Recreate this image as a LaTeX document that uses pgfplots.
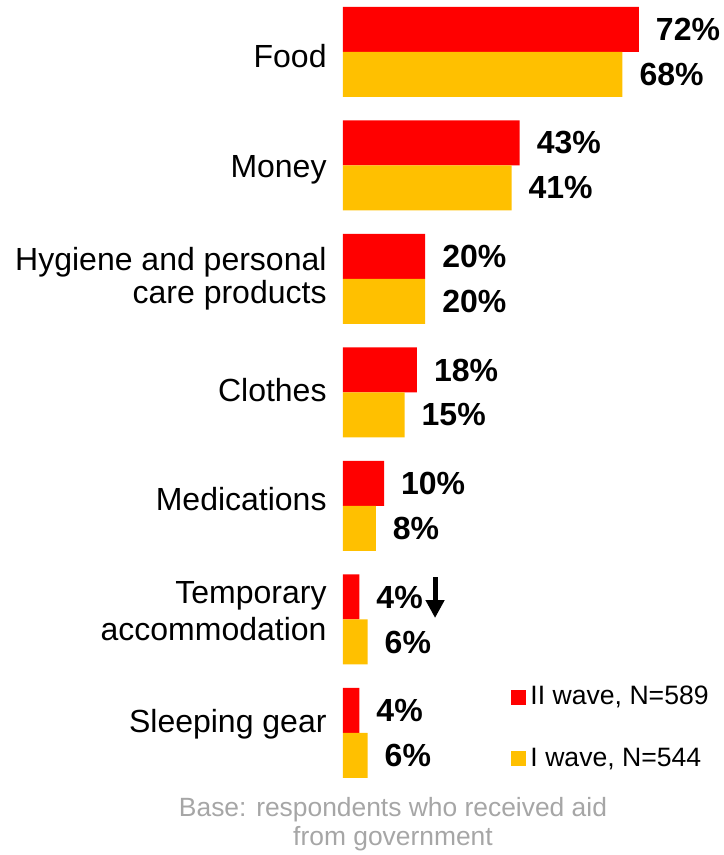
\documentclass[border=0pt]{standalone}
\usepackage{fontspec}
\setmainfont{Liberation Sans}
\usepackage{pgfplots}
\pgfplotsset{compat=1.18}
\usetikzlibrary{arrows.meta}
\definecolor{wavetwo}{HTML}{FF0000}
\definecolor{waveone}{HTML}{FFC000}
\definecolor{basegray}{HTML}{A6A6A6}

\begin{document}
\begin{tikzpicture}[catlbl/.style={anchor=base east, inner sep=0pt, font=\fontsize{16}{17.5}\selectfont}]
\begin{axis}[
    x=2.055pt, y=56.75pt,
    xmin=0, xmax=90,
    ymin=-0.5, ymax=6.5,
    y dir=reverse,
    xbar, bar width=22.5pt,
    axis line style={draw=none},
    tick style={draw=none},
    xtick=\empty, ytick=\empty,
    clip=false,
    point meta=x,
    /pgf/number format/assume math mode=true,
    nodes near coords={\pgfmathprintnumber\pgfplotspointmeta\%},
    every node near coord/.append style={anchor=west, font=\fontsize{16}{18}\selectfont\bfseries, black, xshift=5pt},
    legend style={at={(axis cs:40.9,5.55)}, anchor=north west, draw=none, fill=none,
        font=\fontsize{13.3}{15}\selectfont, row sep=16pt, inner sep=0pt},
    legend cell align=left,
    legend image code/.code={\fill[#1] (0pt,-3.75pt) rectangle (7.5pt,3.75pt);},
]
\addplot[fill=wavetwo, draw=none, bar shift=11.25pt] coordinates {
    (72,0) (43,1) (20,2) (18,3) (10,4) (4,5) (4,6)
};
\addlegendentry{II wave, N=589}
\addplot[fill=waveone, draw=none, bar shift=-11.25pt] coordinates {
    (68,0) (41,1) (20,2) (15,3) (8,4) (6,5) (6,6)
};
\addlegendentry{I wave, N=544}
% category names, one baseline per line
\node[catlbl] at (axis cs:-3.9,0.138) {Food};
\node[catlbl] at (axis cs:-3.9,1.110) {Money};
\node[catlbl] at (axis cs:-3.9,1.921) {Hygiene and personal};
\node[catlbl] at (axis cs:-3.9,2.220) {care products};
\node[catlbl] at (axis cs:-3.9,3.075) {Clothes};
\node[catlbl] at (axis cs:-3.9,4.044) {Medications};
\node[catlbl] at (axis cs:-3.9,4.855) {Temporary};
\node[catlbl] at (axis cs:-3.9,5.181) {accommodation};
\node[catlbl] at (axis cs:-3.9,6.000) {Sleeping gear};
\draw[line width=2.5pt, -{Triangle[width=9pt,length=9pt]}] (axis cs:22.4,4.626) -- (axis cs:22.4,4.987);
\node[anchor=base, text=basegray, font=\fontsize{13.2}{15}\selectfont] at (axis cs:12.17,6.740) {Base: respondents who received aid};
\node[anchor=base, text=basegray, font=\fontsize{13.2}{15}\selectfont] at (axis cs:12.17,6.987) {from government};
\coordinate (bbA) at (axis cs:-83.45,-0.458);
\coordinate (bbB) at (axis cs:92.46,7.075);
\end{axis}
\pgfresetboundingbox
\path (bbA) rectangle (bbB);
\end{tikzpicture}
\end{document}
